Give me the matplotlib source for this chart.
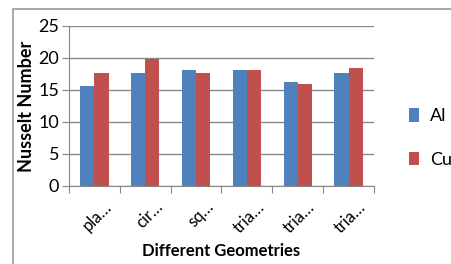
import numpy as np
import matplotlib.pyplot as plt
import matplotlib.patches as patches
import matplotlib.transforms as mtransforms

categories = ['pla…', 'cir…', 'sq…', 'tria…', 'tria…', 'tria…']
al_values = [15.7, 17.7, 18.1, 18.1, 16.2, 17.7]
cu_values = [17.7, 19.8, 17.7, 18.1, 15.9, 18.4]

fig = plt.figure(figsize=(4.52, 2.64), dpi=100)
plt.rcParams['font.family'] = ['Lato', 'DejaVu Sans']

# outer chart frame
frame = patches.Rectangle((13 / 452, -0.1), 1.2, (264 - 9) / 264 + 0.1,
                          transform=fig.transFigure, fill=False,
                          edgecolor='#999999', linewidth=1.2)
fig.patches.append(frame)

ax = fig.add_axes([69 / 452, 1 - 186 / 264, (374 - 69) / 452, 160 / 264])

x = np.arange(len(categories))
w = 0.28
ax.bar(x - w / 2, al_values, w, color='#4F81BD', label='Al', zorder=3)
ax.bar(x + w / 2, cu_values, w, color='#C0504D', label='Cu', zorder=3)

ax.set_xlim(-0.5, len(categories) - 0.5)
ax.set_ylim(0, 25)
ax.set_yticks([0, 5, 10, 15, 20, 25])
ax.yaxis.grid(True, color='#888888', linewidth=1, zorder=0)

ax.set_xticks(np.arange(len(categories) + 1) - 0.5)
ax.set_xticklabels([])
ax.set_xticks(x, minor=True)
ax.set_xticklabels(categories, minor=True, rotation=45, ha='right',
                   rotation_mode='anchor', fontsize=12)
ax.tick_params(axis='x', which='minor', length=0, pad=9)
ax.tick_params(axis='x', which='major', length=5, color='#888888')
ax.tick_params(axis='y', length=5, color='#888888', labelsize=13, pad=2)

# nudge rotated labels to the right, like the original
shift = mtransforms.ScaledTranslation(9 / 100, 0, fig.dpi_scale_trans)
for lab in ax.get_xticklabels(minor=True):
    lab.set_transform(lab.get_transform() + shift)

for s in ['top', 'right']:
    ax.spines[s].set_visible(False)
ax.spines['left'].set_color('#888888')
ax.spines['bottom'].set_color('#888888')

ax.set_ylabel('Nusselt Number', fontsize=13, fontweight='bold')
ax.yaxis.set_label_coords(-0.11, 0.5)
ax.set_xlabel('Different Geometries', fontsize=12, fontweight='bold', labelpad=5)

ax.legend(loc='center left', bbox_to_anchor=(1.06, 0.3), frameon=False,
          fontsize=13, handlelength=0.6, handleheight=0.8, labelspacing=1.5,
          handletextpad=0.6)

fig.savefig('out.png', dpi=100)
